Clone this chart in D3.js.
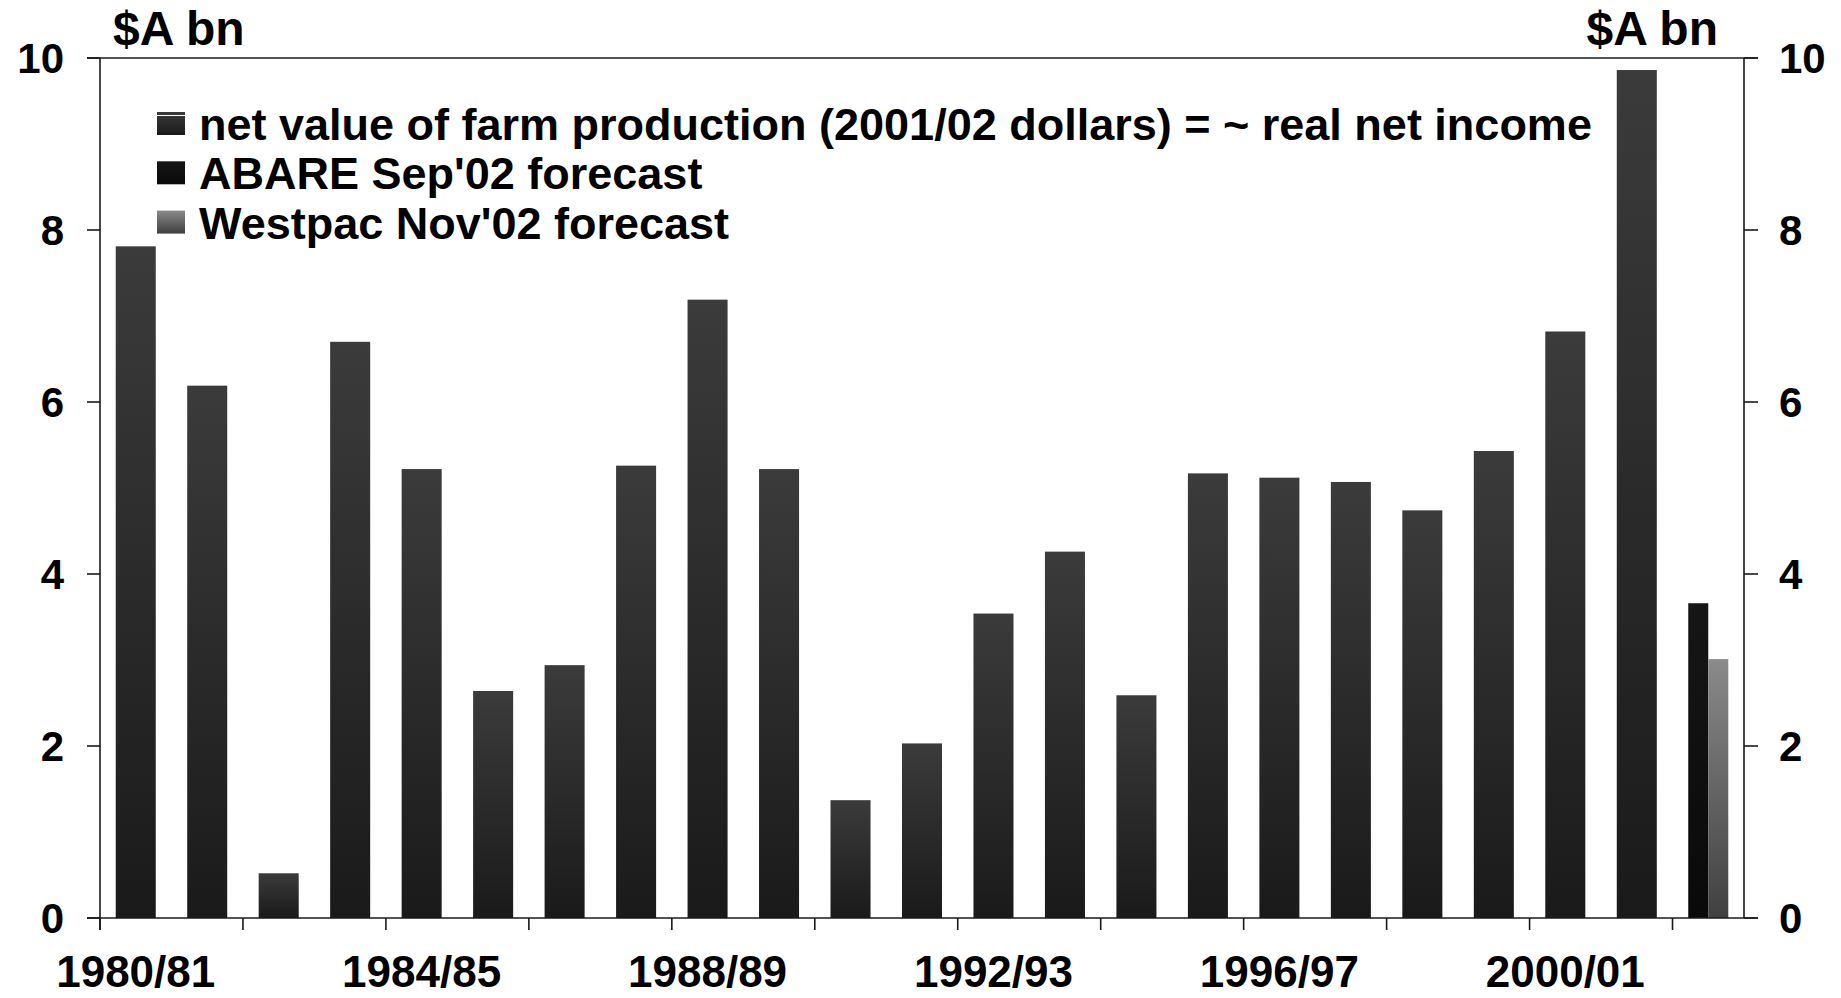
<!DOCTYPE html>
<html>
<head>
<meta charset="utf-8">
<script src="https://cdn.jsdelivr.net/npm/d3@7"></script>
<style>
  body { margin: 0; background: #fff; }
  svg { display: block; font-family: "Liberation Sans", Arial, sans-serif; font-weight: bold; }
</style>
</head>
<body>
<svg id="chart" width="1841" height="998"></svg>
<script>
// categories (financial years)
const years = ["1980/81","1981/82","1982/83","1983/84","1984/85","1985/86","1986/87","1987/88",
  "1988/89","1989/90","1990/91","1991/92","1992/93","1993/94","1994/95","1995/96","1996/97",
  "1997/98","1998/99","1999/00","2000/01","2001/02","2002/03"];

// net value of farm production, $A bn (2001/02 dollars)
const netValue = [7.81, 6.19, 0.52, 6.70, 5.22, 2.64, 2.94, 5.26, 7.19, 5.22, 1.37, 2.03,
  3.54, 4.26, 2.59, 5.17, 5.12, 5.07, 4.74, 5.43, 6.82, 9.86, null];

// forecasts for 2002/03
const forecastNames = ["ABARE Sep'02 forecast", "Westpac Nov'02 forecast"];
const forecastValues = [3.66, 3.01];

const yTicks = [0, 2, 4, 6, 8, 10];
const xLabels = ["1980/81","1984/85","1988/89","1992/93","1996/97","2000/01"];
const legendLabels = ["net value of farm production (2001/02 dollars) = ~ real net income",
  "ABARE Sep'02 forecast", "Westpac Nov'02 forecast"];

const svg = d3.select("#chart");
const plotLeft = 100, plotRight = 1744, plotTop = 58, plotBottom = 918;

const x = d3.scaleBand().domain(years).range([plotLeft, plotRight]).paddingInner(0.44).paddingOuter(0.22);
const y = d3.scaleLinear().domain([0, 10]).range([plotBottom, plotTop]);
const sub = d3.scaleBand().domain(forecastNames).range([0, x.bandwidth()]);

// gradients
const defs = svg.append("defs");
const grads = [
  { id: "gMain", top: "#3b3b3b", bot: "#1a1a1a" },
  { id: "gAbare", top: "#161616", bot: "#090909" },
  { id: "gWestpac", top: "#8a8a8a", bot: "#404040" }
];
grads.forEach(g => {
  const lg = defs.append("linearGradient").attr("id", g.id)
    .attr("x1", 0).attr("y1", 0).attr("x2", 0).attr("y2", 1);
  lg.append("stop").attr("offset", "0%").attr("stop-color", g.top);
  lg.append("stop").attr("offset", "100%").attr("stop-color", g.bot);
});

// main bars
svg.append("g")
  .selectAll("rect")
  .data(years.map((d, i) => ({ year: d, value: netValue[i] })).filter(d => d.value != null))
  .join("rect")
  .attr("x", d => x(d.year))
  .attr("width", x.bandwidth())
  .attr("y", d => y(d.value))
  .attr("height", d => y(0) - y(d.value))
  .attr("fill", "url(#gMain)");

// forecast bars
svg.append("g")
  .selectAll("rect")
  .data(forecastNames.map((n, i) => ({ name: n, value: forecastValues[i], grad: i ? "gWestpac" : "gAbare" })))
  .join("rect")
  .attr("x", d => x("2002/03") + sub(d.name))
  .attr("width", sub.bandwidth())
  .attr("y", d => y(d.value))
  .attr("height", d => y(0) - y(d.value))
  .attr("fill", d => `url(#${d.grad})`);

// frame and axes
const axes = svg.append("g").attr("stroke", "#1a1a1a").attr("stroke-width", 1.6).attr("fill", "none");
axes.append("line").attr("x1", plotLeft - 13).attr("x2", plotRight + 14).attr("y1", plotTop).attr("y2", plotTop);
axes.append("line").attr("x1", plotLeft - 13).attr("x2", plotRight + 14).attr("y1", plotBottom).attr("y2", plotBottom);
axes.append("line").attr("x1", plotLeft).attr("x2", plotLeft).attr("y1", plotTop).attr("y2", plotBottom + 12);
axes.append("line").attr("x1", plotRight).attr("x2", plotRight).attr("y1", plotTop).attr("y2", plotBottom);

// y ticks both sides
yTicks.forEach(t => {
  axes.append("line").attr("x1", plotLeft - 13).attr("x2", plotLeft).attr("y1", y(t)).attr("y2", y(t));
  axes.append("line").attr("x1", plotRight).attr("x2", plotRight + 14).attr("y1", y(t)).attr("y2", y(t));
});

// x ticks at every second category boundary
d3.range(0, years.length, 2).forEach(k => {
  const bx = x.range()[0] + k * x.step();
  axes.append("line").attr("x1", bx).attr("x2", bx).attr("y1", plotBottom).attr("y2", plotBottom + 12);
});

// y labels
const ylab = svg.append("g").attr("font-size", 42).attr("fill", "#000");
ylab.selectAll("text.l").data(yTicks).join("text").attr("class", "l")
  .attr("x", 64).attr("y", d => y(d)).attr("dy", "0.36em").attr("text-anchor", "end").text(d => d);
ylab.selectAll("text.r").data(yTicks).join("text").attr("class", "r")
  .attr("x", 1779).attr("y", d => y(d)).attr("dy", "0.36em").attr("text-anchor", "start").text(d => d);

// unit labels
svg.append("text").attr("x", 113).attr("y", 45).attr("font-size", 48).text("$A bn");
svg.append("text").attr("x", 1718).attr("y", 45).attr("font-size", 48).attr("text-anchor", "end").text("$A bn");

// x labels
svg.append("g").attr("font-size", 44)
  .selectAll("text").data(xLabels).join("text")
  .attr("x", d => x(d) + x.bandwidth() / 2)
  .attr("y", 987)
  .attr("text-anchor", "middle")
  .text(d => d);

// legend
const legend = svg.append("g");
legendLabels.forEach((lbl, i) => {
  const cy = 124 + i * 49.3;
  legend.append("rect").attr("x", 157).attr("y", cy - 12).attr("width", 28).attr("height", 23)
    .attr("fill", `url(#${grads[i].id})`);
  if (i === 0) {
    legend.append("line").attr("x1", 157).attr("x2", 185).attr("y1", cy - 8.5).attr("y2", cy - 8.5)
      .attr("stroke", "#fff").attr("stroke-width", 1);
  }
  legend.append("text").attr("x", 199).attr("y", cy + 16).attr("font-size", 45).text(lbl);
});
</script>
</body>
</html>
